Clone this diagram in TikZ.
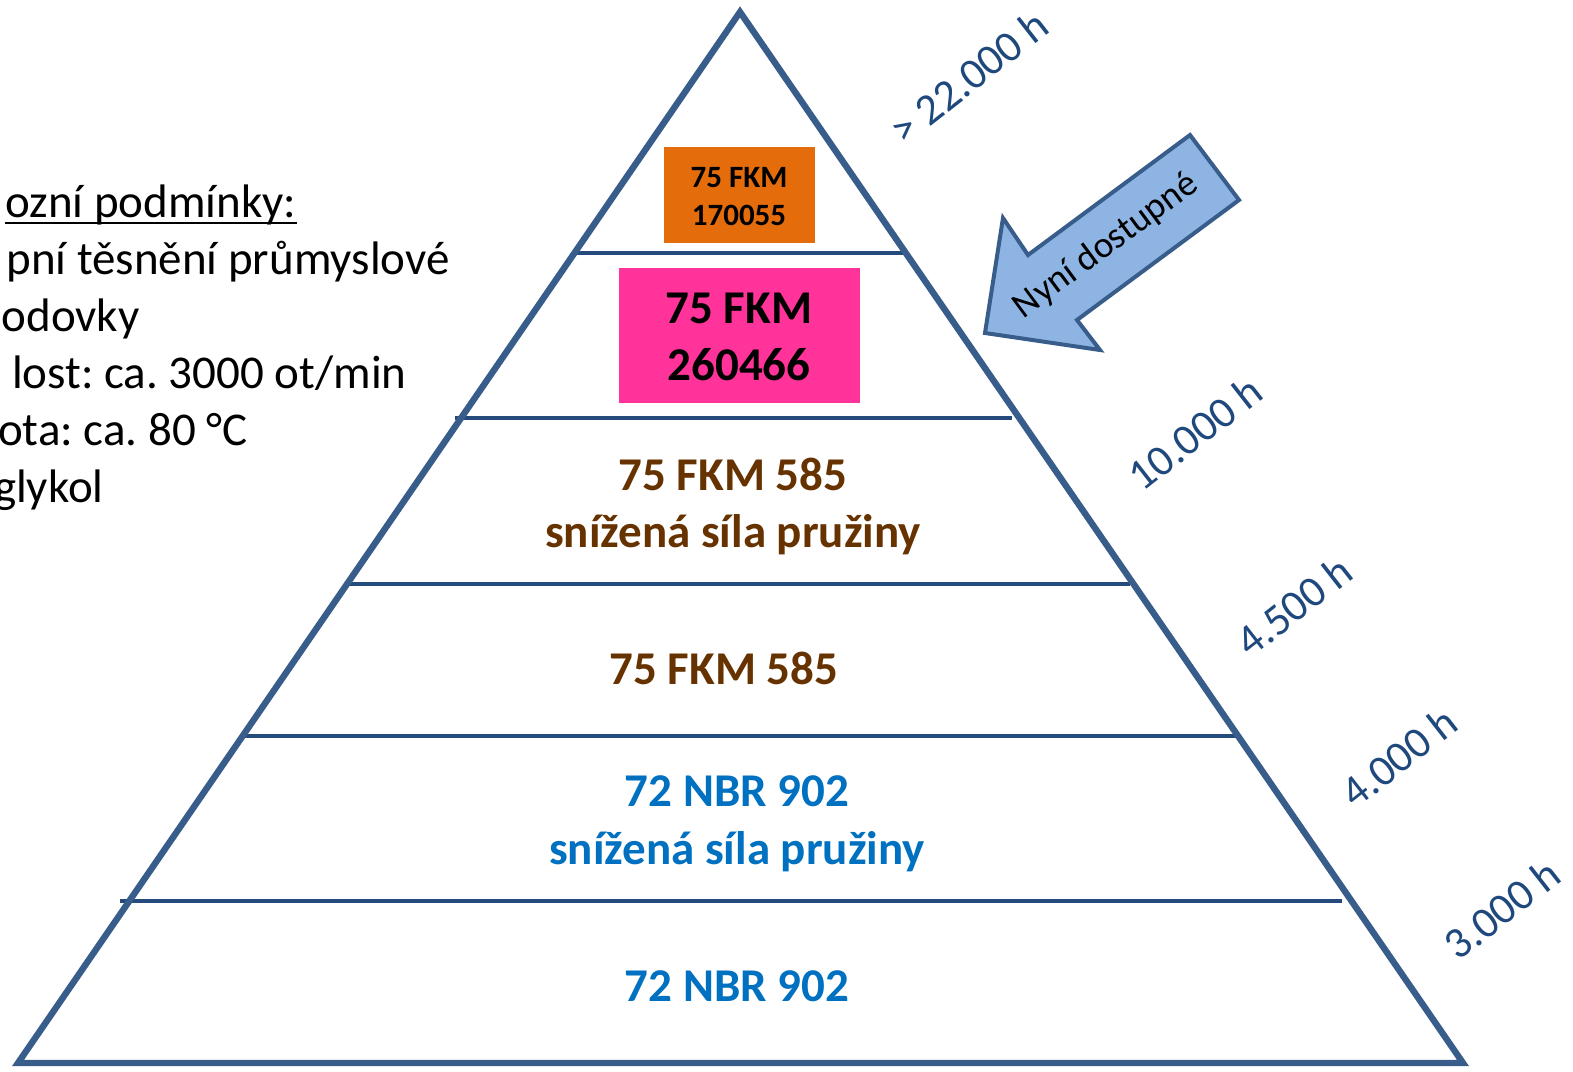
\documentclass[tikz,border=0pt]{standalone}
\usepackage{fontspec}
\setmainfont{Carlito}
\usetikzlibrary{calc}
\frenchspacing
\definecolor{edgeblue}{HTML}{385D8A}
\definecolor{tierblue}{HTML}{254A7C}
\definecolor{hourblue}{HTML}{1F497D}
\definecolor{fkmbrown}{HTML}{663300}
\definecolor{nbrblue}{HTML}{0070C0}
\definecolor{boxorange}{HTML}{E46C0A}
\definecolor{boxpink}{HTML}{FF3399}
\definecolor{arrowfill}{HTML}{8EB4E3}

\begin{document}
\begin{tikzpicture}[x=0.5pt, y=-0.5pt,
	tier/.style={line width=2pt, draw=tierblue},
	hours/.style={text=hourblue, inner sep=0pt, rotate=38, font=\fontsize{22}{26}\selectfont},
	matl/.style={anchor=base, inner sep=0pt, font=\bfseries\fontsize{23.5}{28.5}\selectfont},
	cond/.style={anchor=base east, inner sep=0pt, font=\fontsize{23.5}{28.5}\selectfont}]
		%%%%% START %%%%%
		\useasboundingbox (0, 0) rectangle (1573, 1071);
		\clip (0, 0) rectangle (1573, 1071);
		
		% colour boxes
		\fill[boxorange] (664, 147) rectangle (815, 243);
		\fill[boxpink] (619, 268) rectangle (860, 403);
		
		% tiers
		\draw[tier] (575, 253) -- (905, 253);
		\draw[tier] (455, 418) -- (1012, 418);
		\draw[tier] (348, 584) -- (1130, 584);
		\draw[tier] (243, 736) -- (1238, 736);
		\draw[tier] (120, 901) -- (1342, 901);
		
		% pyramid
		\coordinate (apex) at (740, 12);
		\coordinate (baseL) at (18, 1063);
		\coordinate (baseR) at (1463, 1063);
		\draw[line width=3.2pt, edgeblue] (apex) -- (baseR) -- (baseL) -- cycle;
		
		% materials
		\node[matl, font=\bfseries\fontsize{15.5}{19}\selectfont] (o1) at (739, 187) {75 FKM};
		\node[matl, font=\bfseries\fontsize{15.5}{19}\selectfont] (o2) at (739, 225) {170055};
		\node[matl] (p1) at (739, 323) {75 FKM};
		\node[matl] (p2) at (739, 380) {260466};
		\node[matl, text=fkmbrown] (b1) at (733, 490) {75 FKM 585};
		\node[matl, text=fkmbrown] (b2) at (733, 547) {snížená síla pružiny};
		\node[matl, text=fkmbrown] (b3) at (724, 684) {75 FKM 585};
		\node[matl, text=nbrblue] (n1) at (737, 806) {72 NBR 902};
		\node[matl, text=nbrblue] (n2) at (737, 864) {snížená síla pružiny};
		\node[matl, text=nbrblue] (n3) at (737, 1001) {72 NBR 902};
		
		% hours
		\node[hours] (h1) at (969, 77) {> 22.000 h};
		\node[hours] (h2) at (1195, 433) {10.000 h};
		\node[hours] (h3) at (1294, 606) {4.500 h};
		\node[hours] (h4) at (1399, 757) {4.000 h};
		\node[hours] (h5) at (1502, 909) {3.000 h};
		
		% arrow
		\draw[line width=2pt, edgeblue, fill=arrowfill, line join=miter]
			(1190, 135) -- (1239, 200) -- (1077, 320) -- (1100, 350) -- (985, 333)
			-- (1003, 218) -- (1028, 255) -- cycle;
		\node[rotate=36.5, inner sep=0pt, font=\fontsize{18.5}{22}\selectfont] (now) at (1106, 246) {Nyní dostupné};
		
		% conditions
		\node[cond] (c1) at (297, 217) {ozní podmínky:};
		\draw[line width=1pt] ([yshift=-3pt]c1.base west) -- ([yshift=-3pt]c1.base east);
		\node[cond] (c2) at (450, 274) {pní těsnění průmyslové};
		\node[cond] (c3) at (140, 331) {odovky};
		\node[cond] (c4) at (407, 388) {lost: ca. 3000 ot/min};
		\node[cond] (c5) at (248, 445) {ota: ca. 80 °C};
		\node[cond] (c6) at (104, 502) {glykol};
		
		%%%%% END %%%%%
\end{tikzpicture}
\end{document}
